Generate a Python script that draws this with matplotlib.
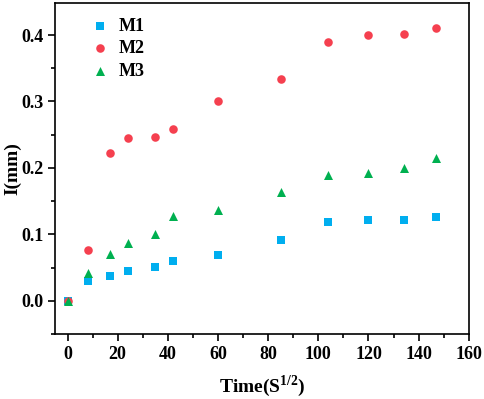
import matplotlib
matplotlib.use('Agg')
import matplotlib.pyplot as plt
from matplotlib.ticker import MultipleLocator

plt.rcParams['font.family'] = ['Liberation Serif', 'DejaVu Serif']
plt.rcParams['font.weight'] = 'bold'
plt.rcParams['mathtext.fontset'] = 'custom'
plt.rcParams['mathtext.rm'] = 'Liberation Serif:bold'
plt.rcParams['mathtext.bf'] = 'Liberation Serif:bold'

time = [0, 8, 17, 24, 35, 42, 60, 85, 104, 120, 134, 147]
m1 = [0, 0.029, 0.037, 0.045, 0.051, 0.060, 0.069, 0.092, 0.119, 0.121, 0.122, 0.126]
m2 = [0, 0.077, 0.222, 0.245, 0.247, 0.258, 0.301, 0.334, 0.389, 0.400, 0.401, 0.410]
m3 = [0, 0.042, 0.071, 0.087, 0.101, 0.128, 0.137, 0.164, 0.190, 0.192, 0.200, 0.215]

fig = plt.figure(figsize=(4.84, 3.99), dpi=100)
ax = fig.add_axes([0.1136, 0.163, 0.855, 0.829])

ax.scatter(time, m1, marker='s', s=30, color='#00aeef', label='M1', linewidths=0)
ax.scatter(time, m2, marker='o', s=38, color='#f5404f', label='M2', linewidths=0)
ax.scatter(time, m3, marker='^', s=42, color='#00b050', label='M3', linewidths=0)

ax.set_xlim(-5, 160)
ax.set_ylim(-0.05, 0.448)
ax.xaxis.set_major_locator(MultipleLocator(20))
ax.xaxis.set_minor_locator(MultipleLocator(10))
ax.yaxis.set_major_locator(MultipleLocator(0.1))
ax.yaxis.set_minor_locator(MultipleLocator(0.05))
ax.tick_params(which='major', direction='out', length=5, width=1.2, labelsize=13)
ax.tick_params(which='minor', direction='out', length=3, width=1.2)
for sp in ax.spines.values():
    sp.set_linewidth(1.2)

ax.set_xlabel(r'Time(S$^{\mathbf{1/2}}$)', fontsize=14, fontweight='bold')
ax.set_ylabel('I(mm)', fontsize=14, fontweight='bold')
ax.xaxis.set_label_coords(0.5, -0.118)
ax.yaxis.set_label_coords(-0.08, 0.5)

leg = ax.legend(loc='upper left', bbox_to_anchor=(0.07, 0.978), frameon=False,
                borderaxespad=0, fontsize=13, handlelength=1.0,
                handletextpad=0.5, labelspacing=0.3)

fig.savefig('out.png', dpi=100)
